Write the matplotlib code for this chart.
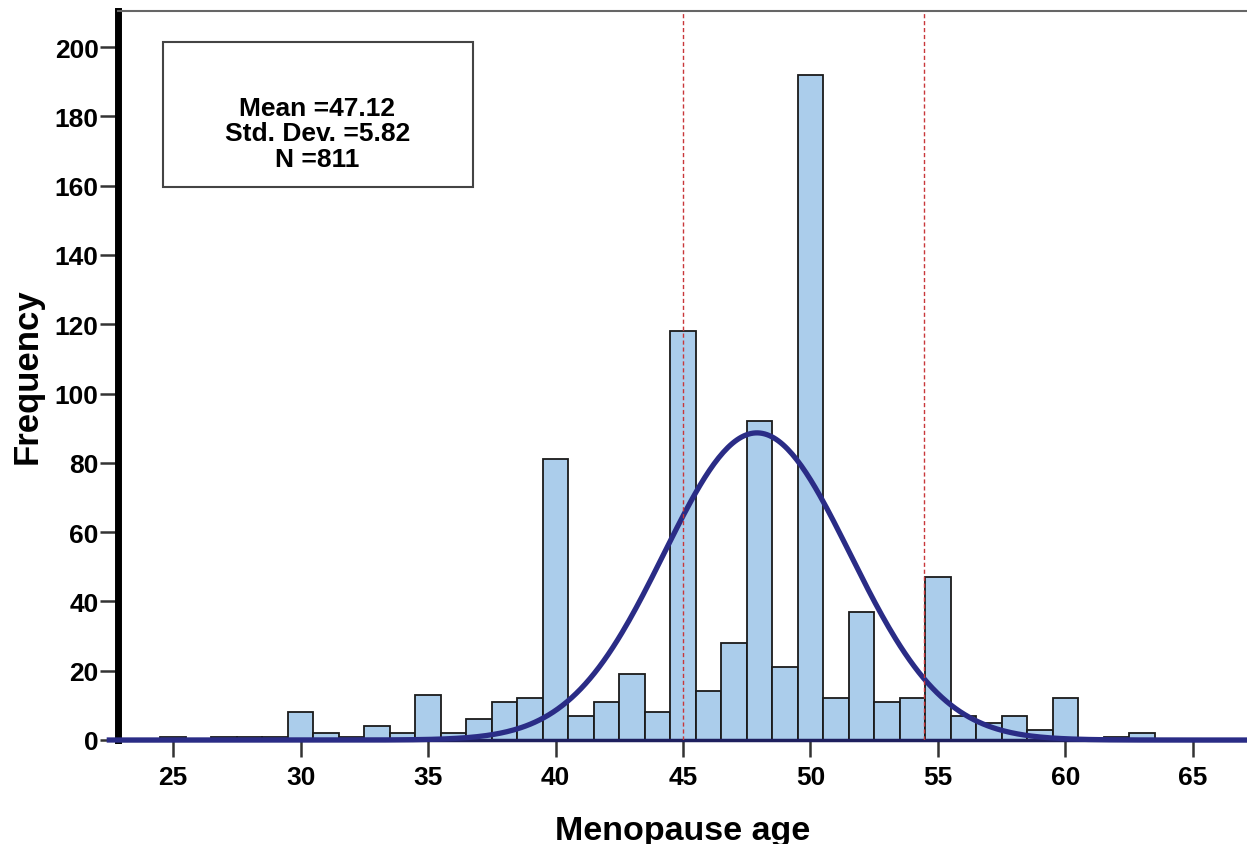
import numpy as np
import matplotlib.pyplot as plt
from matplotlib.patches import Rectangle

# ------------------------------------------------------------
# data (bins of width 1, centred on ages)
# ------------------------------------------------------------
ages = np.arange(25, 64)
counts = [1, 0, 1, 1, 1, 8, 2, 1, 4, 2,
          13, 2, 6, 11, 12, 81, 7, 11, 19, 8,
          118, 14, 28, 92, 21, 192, 12, 37, 11, 12,
          47, 7, 5, 7, 3, 12, 0, 1, 2]

stats_text = "Mean =47.12\nStd. Dev. =5.82\nN =811"
n_total = 811
curve_mean = 47.9     # centre of the drawn normal curve
curve_sd = 3.65       # spread of the drawn normal curve
ref_lines = [45, 54.45]

x_ticks = [25, 30, 35, 40, 45, 50, 55, 60, 65]
y_ticks = [0, 20, 40, 60, 80, 100, 120, 140, 160, 180, 200]

plt.rcParams['font.family'] = ['Liberation Sans', 'DejaVu Sans']

fig = plt.figure(figsize=(12.47, 8.45), dpi=100)
ax = fig.add_axes([118 / 1247, 104 / 845, 1129 / 1247, 729 / 845])

# bars
ax.bar(ages, counts, width=1.0, color="#abcdeb", edgecolor="#1a1a1a",
       linewidth=1.3, zorder=2)

# normal curve
xs = np.linspace(22.5, 67.5, 500)
ys = n_total * np.exp(-0.5 * ((xs - curve_mean) / curve_sd) ** 2) / (curve_sd * np.sqrt(2 * np.pi))
ax.plot(xs, ys, color="#2a2c86", linewidth=3.8, zorder=3, clip_on=False)

# reference lines
for v in ref_lines:
    ax.axvline(v, color="#c8373a", linestyle=(0, (3, 2)), linewidth=1.0, zorder=4)

ax.set_xlim(22.84, 67.12)
ax.set_ylim(0, 210.4)
ax.set_xticks(x_ticks)
ax.set_yticks(y_ticks)
ax.tick_params(axis='both', width=1.8, color="#333333", labelsize=19)
ax.tick_params(axis='x', length=12, pad=6)
ax.tick_params(axis='y', length=13, pad=1)
for lab in ax.get_xticklabels() + ax.get_yticklabels():
    lab.set_fontweight('bold')

ax.spines['left'].set_linewidth(5)
ax.spines['left'].set_color("black")
ax.spines['top'].set_linewidth(1.5)
ax.spines['top'].set_color("#666666")
ax.spines['right'].set_visible(False)
ax.spines['bottom'].set_linewidth(2.5)
ax.spines['bottom'].set_color("#1e1f5e")

ax.set_xlabel("Menopause age", fontsize=24.5, fontweight='bold', labelpad=19)
ax.set_ylabel("Frequency", fontsize=25, fontweight='bold', labelpad=8)

# statistics box
ax.add_patch(Rectangle((0.0399, 0.759), 0.2746, 0.199, transform=ax.transAxes,
                       facecolor="white", edgecolor="#444444", linewidth=1.5, zorder=5))
ax.text(0.1767, 0.832, stats_text, transform=ax.transAxes, ha='center', va='center',
        fontsize=19, fontweight='bold', linespacing=1.08, zorder=6)

fig.savefig("out.png", dpi=100)
